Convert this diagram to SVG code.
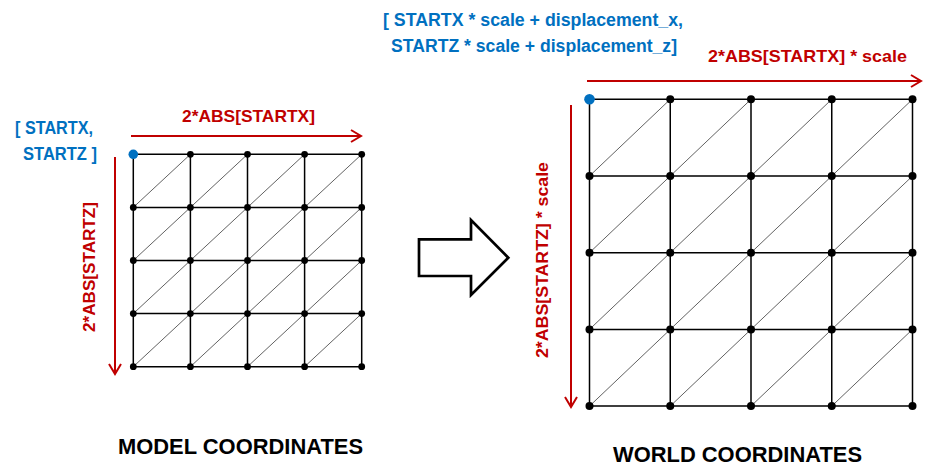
<svg xmlns="http://www.w3.org/2000/svg" width="934" height="476" viewBox="0 0 934 476">
<style>
text{font-family:"Liberation Sans",Arial,sans-serif;font-weight:bold}
.blue{fill:#0070C0;font-size:18px}
.red{fill:#C00000;font-size:17px}
.title{fill:#000;font-size:22px}
.grid{stroke:#000;stroke-width:1.5;fill:none}
.diag{stroke:#505050;stroke-width:0.9;fill:none}
.dim{stroke:#C00000;stroke-width:2;fill:none}
.dot{fill:#000}
.start{fill:#0070C0}
</style>
<defs>
<marker id="chev" markerUnits="userSpaceOnUse" markerWidth="14" markerHeight="16" viewBox="-12 -8 14 16" refX="0" refY="0" orient="auto">
<path d="M-10 -6L0 0L-10 6" fill="none" stroke="#C00000" stroke-width="2"/>
</marker>
</defs>
<rect width="934" height="476" fill="#fff"/>

<g id="model-grid">
<path class="diag" d="M133.3 207.4L190.4 154.3M190.4 207.4L247.5 154.3M247.5 207.4L304.6 154.3M304.6 207.4L361.7 154.3
M133.3 260.5L190.4 207.4M190.4 260.5L247.5 207.4M247.5 260.5L304.6 207.4M304.6 260.5L361.7 207.4
M133.3 313.6L190.4 260.5M190.4 313.6L247.5 260.5M247.5 313.6L304.6 260.5M304.6 313.6L361.7 260.5
M133.3 366.7L190.4 313.6M190.4 366.7L247.5 313.6M247.5 366.7L304.6 313.6M304.6 366.7L361.7 313.6"/>
<path class="grid" d="M133.3 154.3H361.7M133.3 207.4H361.7M133.3 260.5H361.7M133.3 313.6H361.7M133.3 366.7H361.7
M133.3 154.3V366.7M190.4 154.3V366.7M247.5 154.3V366.7M304.6 154.3V366.7M361.7 154.3V366.7"/>
<g class="dot">
<circle cx="190.4" cy="154.3" r="3.4"/><circle cx="247.5" cy="154.3" r="3.4"/><circle cx="304.6" cy="154.3" r="3.4"/><circle cx="361.7" cy="154.3" r="3.4"/>
<circle cx="133.3" cy="207.4" r="3.4"/><circle cx="190.4" cy="207.4" r="3.4"/><circle cx="247.5" cy="207.4" r="3.4"/><circle cx="304.6" cy="207.4" r="3.4"/><circle cx="361.7" cy="207.4" r="3.4"/>
<circle cx="133.3" cy="260.5" r="3.4"/><circle cx="190.4" cy="260.5" r="3.4"/><circle cx="247.5" cy="260.5" r="3.4"/><circle cx="304.6" cy="260.5" r="3.4"/><circle cx="361.7" cy="260.5" r="3.4"/>
<circle cx="133.3" cy="313.6" r="3.4"/><circle cx="190.4" cy="313.6" r="3.4"/><circle cx="247.5" cy="313.6" r="3.4"/><circle cx="304.6" cy="313.6" r="3.4"/><circle cx="361.7" cy="313.6" r="3.4"/>
<circle cx="133.3" cy="366.7" r="3.4"/><circle cx="190.4" cy="366.7" r="3.4"/><circle cx="247.5" cy="366.7" r="3.4"/><circle cx="304.6" cy="366.7" r="3.4"/><circle cx="361.7" cy="366.7" r="3.4"/>
</g>
<circle class="start" cx="133.3" cy="154.3" r="4.8"/>
</g>

<g id="world-grid">
<path class="diag" d="M589.5 176L670.25 99.3M670.25 176L751 99.3M751 176L831.75 99.3M831.75 176L912.5 99.3
M589.5 252.7L670.25 176M670.25 252.7L751 176M751 252.7L831.75 176M831.75 252.7L912.5 176
M589.5 329.4L670.25 252.7M670.25 329.4L751 252.7M751 329.4L831.75 252.7M831.75 329.4L912.5 252.7
M589.5 406.1L670.25 329.4M670.25 406.1L751 329.4M751 406.1L831.75 329.4M831.75 406.1L912.5 329.4"/>
<path class="grid" d="M589.5 99.3H912.5M589.5 176H912.5M589.5 252.7H912.5M589.5 329.4H912.5M589.5 406.1H912.5
M589.5 99.3V406.1M670.25 99.3V406.1M751 99.3V406.1M831.75 99.3V406.1M912.5 99.3V406.1"/>
<g class="dot">
<circle cx="670.25" cy="99.3" r="4"/><circle cx="751" cy="99.3" r="4"/><circle cx="831.75" cy="99.3" r="4"/><circle cx="912.5" cy="99.3" r="4"/>
<circle cx="589.5" cy="176" r="4"/><circle cx="670.25" cy="176" r="4"/><circle cx="751" cy="176" r="4"/><circle cx="831.75" cy="176" r="4"/><circle cx="912.5" cy="176" r="4"/>
<circle cx="589.5" cy="252.7" r="4"/><circle cx="670.25" cy="252.7" r="4"/><circle cx="751" cy="252.7" r="4"/><circle cx="831.75" cy="252.7" r="4"/><circle cx="912.5" cy="252.7" r="4"/>
<circle cx="589.5" cy="329.4" r="4"/><circle cx="670.25" cy="329.4" r="4"/><circle cx="751" cy="329.4" r="4"/><circle cx="831.75" cy="329.4" r="4"/><circle cx="912.5" cy="329.4" r="4"/>
<circle cx="589.5" cy="406.1" r="4"/><circle cx="670.25" cy="406.1" r="4"/><circle cx="751" cy="406.1" r="4"/><circle cx="831.75" cy="406.1" r="4"/><circle cx="912.5" cy="406.1" r="4"/>
</g>
<circle class="start" cx="589.5" cy="99.3" r="5.3"/>
</g>

<g id="connectors">
<path class="dim" d="M131 136H361" marker-end="url(#chev)"/>
<path class="dim" d="M115 157V374" marker-end="url(#chev)"/>
<path class="dim" d="M587 81H921" marker-end="url(#chev)"/>
<path class="dim" d="M571 105V407" marker-end="url(#chev)"/>
</g>

<g id="transform-arrow">
<polygon points="419,239.3 471,239.3 471,220 508.3,257.7 471,295 471,276 419,276" fill="#fff" stroke="#000" stroke-width="2.7" stroke-linejoin="miter"/>
</g>

<g id="labels">
<text class="blue" x="15" y="134" textLength="78" lengthAdjust="spacingAndGlyphs">[ STARTX,</text>
<text class="blue" x="23" y="160" textLength="74" lengthAdjust="spacingAndGlyphs">STARTZ ]</text>
<text class="red" x="182" y="122" textLength="133" lengthAdjust="spacingAndGlyphs">2*ABS[STARTX]</text>
<text class="red" transform="translate(95,332) rotate(-90)" x="0" y="0" textLength="130" lengthAdjust="spacingAndGlyphs">2*ABS[STARTZ]</text>
<text class="blue" x="383" y="25.5" textLength="300" lengthAdjust="spacingAndGlyphs">[ STARTX * scale + displacement_x,</text>
<text class="blue" x="391" y="51.5" textLength="286" lengthAdjust="spacingAndGlyphs">STARTZ * scale + displacement_z]</text>
<text class="red" x="708" y="61.5" textLength="199" lengthAdjust="spacingAndGlyphs">2*ABS[STARTX] * scale</text>
<text class="red" transform="translate(548,358) rotate(-90)" x="0" y="0" textLength="196" lengthAdjust="spacingAndGlyphs">2*ABS[STARTZ] * scale</text>
<text class="title" x="118" y="454" textLength="245" lengthAdjust="spacingAndGlyphs">MODEL COORDINATES</text>
<text class="title" x="613" y="461.5" textLength="249" lengthAdjust="spacingAndGlyphs">WORLD COORDINATES</text>
</g>
</svg>
